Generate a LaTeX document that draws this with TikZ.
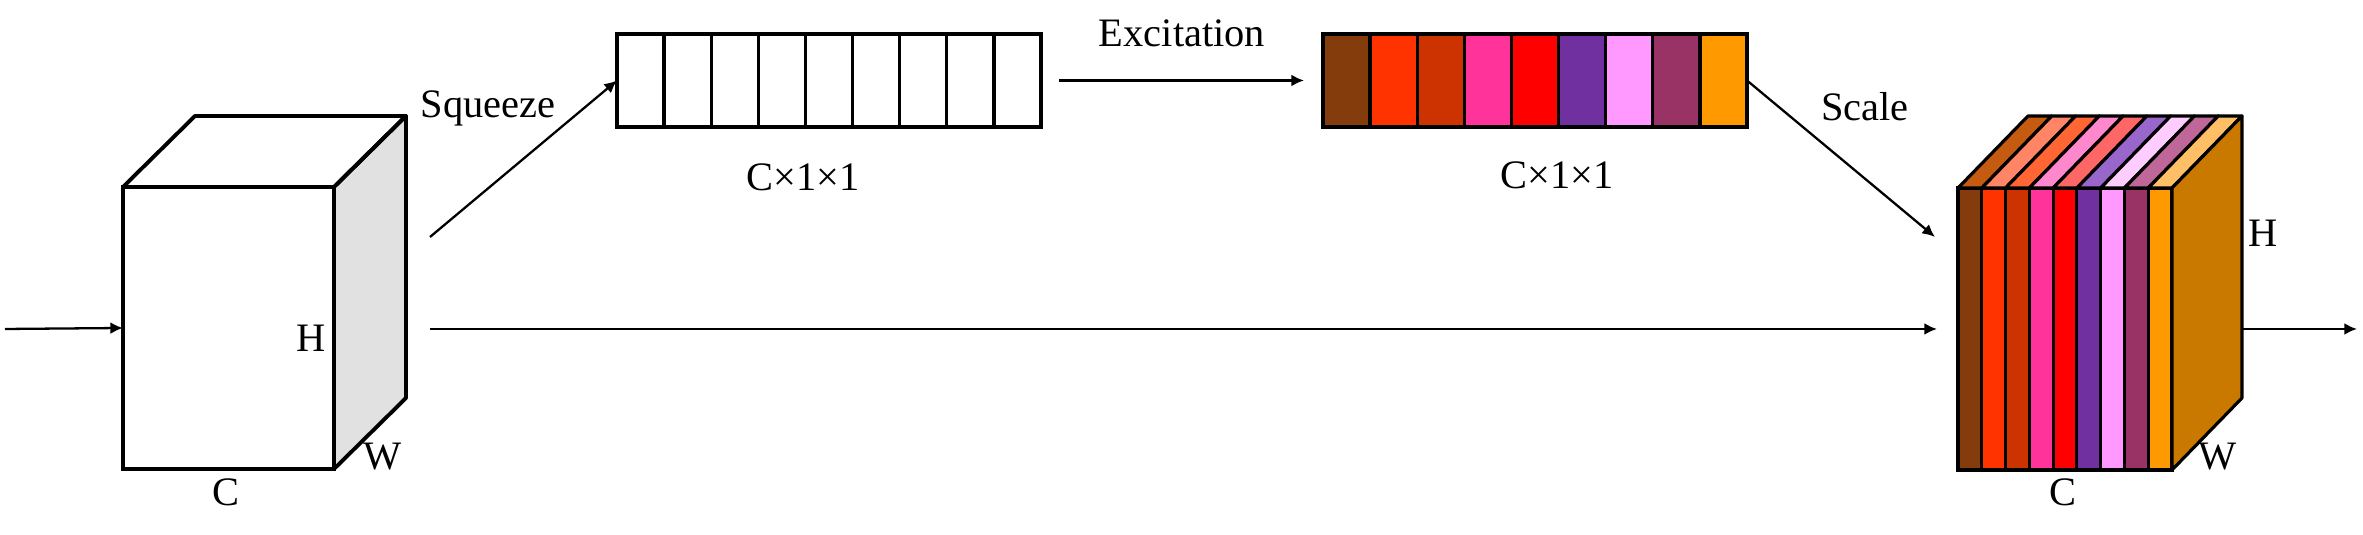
\documentclass[tikz,border=0pt]{standalone}
\usepackage{fontspec}
\setmainfont{Liberation Serif}
\usetikzlibrary{positioning, arrows.meta}

\definecolor{chA}{HTML}{843C0C}
\definecolor{chB}{HTML}{FF3300}
\definecolor{chC}{HTML}{CC3300}
\definecolor{chD}{HTML}{FF3399}
\definecolor{chE}{HTML}{FF0000}
\definecolor{chF}{HTML}{7030A0}
\definecolor{chG}{HTML}{FF99FF}
\definecolor{chH}{HTML}{993366}
\definecolor{chI}{HTML}{FF9900}
\definecolor{topA}{HTML}{C55A11}
\definecolor{topB}{HTML}{FF8566}
\definecolor{topC}{HTML}{FF6633}
\definecolor{topD}{HTML}{FF88CC}
\definecolor{topE}{HTML}{FF6666}
\definecolor{topF}{HTML}{9966CC}
\definecolor{topG}{HTML}{FFCCFF}
\definecolor{topH}{HTML}{C0679A}
\definecolor{topI}{HTML}{FFBF66}
\definecolor{sideO}{HTML}{C97800}
\definecolor{sideG}{HTML}{E1E1E1}

\begin{document}
\begin{tikzpicture}[font=\fontsize{11.5}{14}\selectfont, >={Latex[length=3.6pt,width=3.4pt]},
    cube/.style={draw, line width=1.1pt, inner sep=0, outer sep=0,
                 minimum height=2.82cm, anchor=south west},
    cellbox/.style={draw, line width=0.95pt, inner sep=0, outer sep=0,
                    minimum width=4.24cm, minimum height=0.93cm},
    flow/.style={->, line width=0.65pt}]
    \useasboundingbox (0,0) rectangle (23.63,5.35);

    % Add the input cube
        \node[cube, minimum width=2.11cm] (X) at (1.23,0.66) {};
        \draw[line width=1.1pt, fill=sideG, line join=round]
            (X.north east) -- ++(0.72,0.71) -- ++(0,-2.82) -- (X.south east) -- cycle;
        \draw[line width=1.1pt, line join=round]
            (X.north west) -- ++(0.72,0.71) -- ++(2.11,0) -- (X.north east) -- cycle;

    % Add the two vectors
        \node[cellbox, anchor=south west] (S) at (6.17,4.08) {};
        \foreach \i in {1,...,8}
            \draw[line width=0.95pt] ([xshift=\i*0.4711cm]S.north west) -- ([xshift=\i*0.4711cm]S.south west);
        \node[cellbox, right=2.82cm of S] (E) {};
        \foreach \c [count=\i from 0] in {chA,chB,chC,chD,chE,chF,chG,chH,chI}
            \draw[line width=0.95pt, fill=\c] ([xshift=\i*0.4711cm]E.south west) rectangle ++(0.4711,0.93);

    % Add the output cube
        \node[cube, minimum width=2.14cm] (Y) at (19.58,0.65) {};
        \foreach \c [count=\i from 0] in {chA,chB,chC,chD,chE,chF,chG,chH,chI}
            \draw[line width=0.9pt, fill=\c] ([xshift=\i*0.2378cm]Y.south west) rectangle ++(0.2378,2.82);
        \foreach \c [count=\i from 0] in {topA,topB,topC,topD,topE,topF,topG,topH,topI}
            \draw[line width=0.9pt, fill=\c, line join=round]
                ([xshift=\i*0.2378cm]Y.north west) -- ++(0.2378,0) -- ++(0.70,0.72) -- ++(-0.2378,0) -- cycle;
        \draw[line width=0.9pt, fill=sideO, line join=round]
            (Y.north east) -- ++(0.70,0.72) -- ++(0,-2.82) -- (Y.south east) -- cycle;

    % Labels
        \node (hA) at (3.11,1.97) {H};
        \node (wA) at (3.83,0.78) {W};
        \node (cA) at (2.26,0.43) {C};
        \node (hB) at (22.63,3.02) {H};
        \node (wB) at (22.18,0.78) {W};
        \node (cB) at (20.63,0.43) {C};
        \node (sqz) at (4.88,4.27) {Squeeze};
        \node (exc) at (11.82,5.02) {Excitation};
        \node (scl) at (18.65,4.28) {Scale};
        \node (dimS) at (8.03,3.58) {C×1×1};
        \node (dimE) at (15.57,3.60) {C×1×1};

    % Connectors
        \coordinate (in) at (0.05,2.06);
        \coordinate (sqfrom) at (4.30,2.98);
        \coordinate (skip) at (4.30,2.06);
        \coordinate (sclto) at (19.35,2.98);
        \coordinate (skipto) at (19.37,2.06);
        \coordinate (outfrom) at (22.42,2.06);
        \coordinate (out) at (23.57,2.06);
        \draw[flow] (in) -- (X.west);
        \draw[flow] (sqfrom) -- (S.west);
        \draw[flow] ([xshift=0.18cm]S.east) -- ([xshift=-0.19cm]E.west);
        \draw[flow] (E.east) -- (sclto);
        \draw[flow] (skip) -- (skipto);
        \draw[flow] (outfrom) -- (out);
\end{tikzpicture}
\end{document}
